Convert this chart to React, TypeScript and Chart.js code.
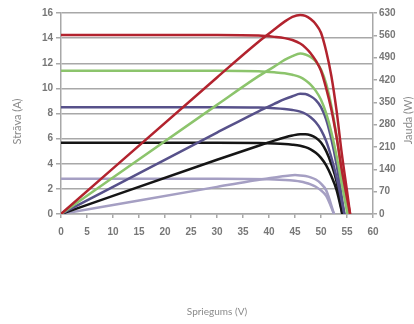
import React, { useEffect, useRef } from 'react';
import { Chart, registerables } from 'chart.js';

Chart.register(...registerables);

// Tick labels
const voltageTicks = [0, 5, 10, 15, 20, 25, 30, 35, 40, 45, 50, 55, 60];
const currentTicks = [0, 2, 4, 6, 8, 10, 12, 14, 16];
const powerTicks = [0, 70, 140, 210, 280, 350, 420, 490, 560, 630];

// Red curves (highest irradiance)
const voltsRed = [0, 30, 38, 41, 43, 44.5, 46, 47, 48, 49, 50, 51, 52, 53, 54, 55, 55.6];
const ampsRed = [14.25, 14.25, 14.2, 14.1, 14.0, 13.85, 13.57, 13.25, 12.8, 12.2, 11.4, 10.0, 8.3, 6.1, 3.5, 1.3, 0];
const wattsRed = [0, 428, 540, 578, 603, 618, 624, 621, 611, 595, 568, 510, 432, 323, 189, 72, 0];

// Green curves
const voltsGreen = [0, 30, 38, 41, 43, 44.5, 46, 47, 48, 49, 50, 51, 52, 53, 54, 55.1];
const ampsGreen = [11.4, 11.4, 11.36, 11.28, 11.2, 11.08, 10.9, 10.65, 10.3, 9.8, 9.1, 8.0, 6.5, 4.6, 2.4, 0];
const wattsGreen = [0, 342, 432, 462, 483, 495, 503, 500, 492, 478, 453, 408, 338, 244, 130, 0];

// Purple curves
const voltsPurple = [0, 30, 38, 41, 43, 44.5, 46, 47, 48, 49, 50, 51, 52, 53, 54.5];
const ampsPurple = [8.5, 8.5, 8.47, 8.42, 8.36, 8.28, 8.15, 7.98, 7.7, 7.3, 6.7, 5.8, 4.5, 2.9, 0];
const wattsPurple = [0, 255, 322, 345, 360, 369, 377, 376, 369, 357, 335, 296, 234, 154, 0];

// Black curves
const voltsBlack = [0, 30, 38, 41, 43, 44.5, 46, 47, 48, 49, 50, 51, 52, 53, 54.1];
const ampsBlack = [5.67, 5.67, 5.65, 5.62, 5.58, 5.52, 5.43, 5.32, 5.14, 4.87, 4.47, 3.87, 3.0, 1.9, 0];
const wattsBlack = [0, 170, 214, 230, 240, 246, 250, 250, 247, 239, 224, 197, 156, 101, 0];

// Light grey curves (lowest irradiance)
const voltsGray = [0, 30, 36, 40, 42, 44, 45, 46, 47, 48, 49, 50, 51, 52.5];
const ampsGray = [2.8, 2.8, 2.79, 2.76, 2.73, 2.68, 2.64, 2.58, 2.49, 2.36, 2.17, 1.88, 1.44, 0];
const wattsGray = [0, 85, 102, 112, 117, 121, 122, 121, 119, 115, 108, 95, 74, 0];

const curveColors = ['#b2232e', '#8cc46c', '#57518a', '#151515', '#a59fc3'];

const xTitle = 'Spriegums (V)';
const yTitle = 'Strāva (A)';
const y1Title = 'Jauda (W)';

const pts = (xs: number[], ys: number[]) => xs.map((x, i) => ({ x, y: ys[i] }));

const axisTitlesPlugin = {
  id: 'sideTitles',
  afterDraw(chart: any) {
    const { ctx, chartArea } = chart;
    const midY = (chartArea.top + chartArea.bottom) / 2 + 8;
    ctx.save();
    ctx.font = '11px Lato';
    ctx.fillStyle = '#8a8a8a';
    ctx.textAlign = 'center';
    ctx.textBaseline = 'middle';
    ctx.translate(chartArea.left - 44, midY);
    ctx.rotate(-Math.PI / 2);
    ctx.fillText(yTitle, 0, 0);
    ctx.restore();
    ctx.save();
    ctx.font = '11px Lato';
    ctx.fillStyle = '#8a8a8a';
    ctx.textAlign = 'center';
    ctx.textBaseline = 'middle';
    ctx.translate(chartArea.right + 35, midY - 1);
    ctx.rotate(-Math.PI / 2);
    ctx.fillText(y1Title, 0, 0);
    ctx.restore();
  },
};

export default function App() {
  const ref = useRef<HTMLCanvasElement | null>(null);

  useEffect(() => {
    if (!ref.current) return;
    const groups = [
      [voltsRed, ampsRed, wattsRed],
      [voltsGreen, ampsGreen, wattsGreen],
      [voltsPurple, ampsPurple, wattsPurple],
      [voltsBlack, ampsBlack, wattsBlack],
      [voltsGray, ampsGray, wattsGray],
    ];
    const datasets: any[] = [];
    groups.forEach(([v, a, w], i) => {
      const base = {
        borderColor: curveColors[i],
        backgroundColor: curveColors[i],
        borderWidth: 2.5,
        pointRadius: 0,
        fill: false,
        cubicInterpolationMode: 'monotone',
      };
      datasets.push({ ...base, label: 'I' + i, data: pts(v, a), yAxisID: 'y' });
      datasets.push({ ...base, label: 'P' + i, data: pts(v, w), yAxisID: 'y1' });
    });

    const tickFont = { family: 'Liberation Sans, Arial', size: 10, weight: 'bold' as const };
    const tickColor = '#777';
    const gridColor = '#a8a8a8';

    const chart = new Chart(ref.current, {
      type: 'line',
      data: { datasets },
      options: {
        animation: false,
        responsive: true,
        maintainAspectRatio: false,
        layout: { padding: { top: 13, left: 0, right: 0, bottom: 0 } },
        plugins: { legend: { display: false }, tooltip: { enabled: false } },
        scales: {
          x: {
            type: 'linear',
            min: 0,
            max: 60,
            afterBuildTicks: (s: any) => { s.ticks = voltageTicks.map((value) => ({ value })); },
            afterFit: (s: any) => { s.height = 110; },
            grid: { drawOnChartArea: false, drawTicks: true, tickLength: 4, color: gridColor, lineWidth: 1.5 },
            border: { display: true, color: gridColor, width: 1.5 },
            ticks: { font: tickFont, color: tickColor, padding: 8, maxRotation: 0 },
            title: {
              display: true,
              text: xTitle,
              font: { family: 'Lato', size: 10 },
              color: '#8a8a8a',
              padding: { top: 0, bottom: 6 },
            },
          },
          y: {
            type: 'linear',
            position: 'left',
            min: 0,
            max: 16,
            afterBuildTicks: (s: any) => { s.ticks = currentTicks.map((value) => ({ value })); },
            afterFit: (s: any) => { s.width = 61; },
            grid: { drawOnChartArea: true, drawTicks: true, tickLength: 5, color: gridColor, lineWidth: 1.5 },
            border: { display: true, color: gridColor, width: 1.5 },
            ticks: { font: tickFont, color: tickColor, padding: 3 },
          },
          y1: {
            type: 'linear',
            position: 'right',
            min: 0,
            max: 630,
            afterBuildTicks: (s: any) => { s.ticks = powerTicks.map((value) => ({ value })); },
            afterFit: (s: any) => { s.width = 41; },
            grid: { drawOnChartArea: false, drawTicks: true, tickLength: 4, color: gridColor, lineWidth: 1.5 },
            border: { display: true, color: gridColor, width: 1.5 },
            ticks: { font: tickFont, color: tickColor, padding: 2 },
          },
        },
      },
      plugins: [axisTitlesPlugin],
    } as any);
    return () => chart.destroy();
  }, []);

  return (
    <div style={{ position: 'fixed', left: 0, top: 0, width: 414, height: 324 }}>
      <canvas ref={ref} />
    </div>
  );
}
